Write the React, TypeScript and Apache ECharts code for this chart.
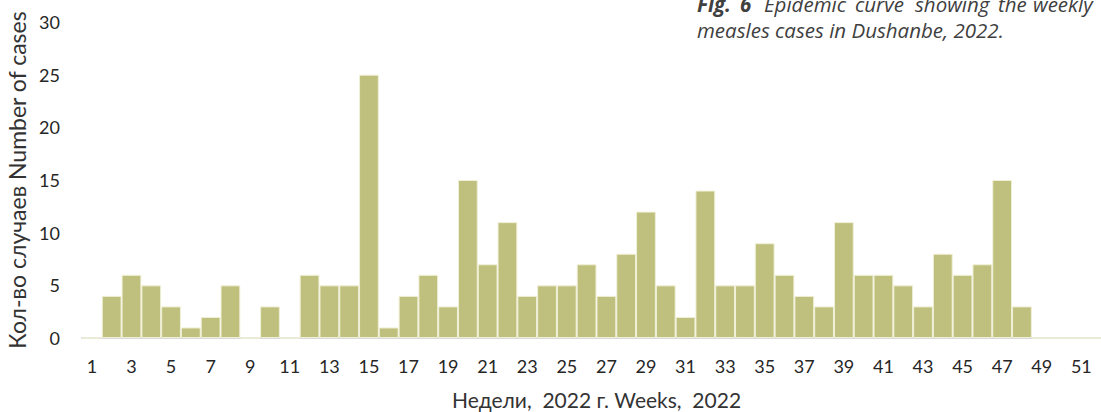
import React, { useEffect, useRef } from "react";
import * as echarts from "echarts";

const weeks: string[] = Array.from({ length: 52 }, (_, i) => String(i + 1));
const cases: number[] = [
  0, 4, 6, 5, 3, 1, 2, 5, 0, 3,
  0, 6, 5, 5, 25, 1, 4, 6, 3, 15,
  7, 11, 4, 5, 5, 7, 4, 8, 12, 5,
  2, 14, 5, 5, 9, 6, 4, 3, 11, 6,
  6, 5, 3, 8, 6, 7, 15, 3, 0, 0,
  0, 0,
];
const yTitle = "Кол-во случаев Number of cases";
const xTitle = "Недели,  2022 г. Weeks,  2022";
const captionWords: { t: string; x: number; bold?: boolean }[] = [
  { t: "Fig.", x: 697, bold: true },
  { t: "6", x: 740, bold: true },
  { t: "Epidemic", x: 764 },
  { t: "curve", x: 855 },
  { t: "showing", x: 915 },
  { t: "the", x: 998 },
  { t: "weekly", x: 1033 },
];
const captionLine2 = "measles cases in Dushanbe, 2022.";

export default function App() {
  const ref = useRef<HTMLDivElement>(null);
  useEffect(() => {
    if (!ref.current) return;
    const chart = echarts.init(ref.current, null, { renderer: "svg" });
    const font = "Lato, 'Open Sans', sans-serif";
    const capFont = "'Open Sans', sans-serif";
    const graphics: any[] = captionWords.map((w) => ({
      type: "text",
      x: w.x,
      y: 4,
      style: {
        text: w.t,
        fill: "#404040",
        font: `italic ${w.bold ? "bold " : ""}20.5px ${capFont}`,
        verticalAlign: "middle",
      },
    }));
    graphics.push({
      type: "text",
      x: 697,
      y: 30,
      style: {
        text: captionLine2,
        fill: "#404040",
        font: `italic 20.5px ${capFont}`,
        verticalAlign: "middle",
      },
    });
    chart.setOption({
      animation: false,
      grid: {
        left: 82,
        top: 22,
        width: 1029,
        height: 316,
        containLabel: false,
        outerBoundsMode: "none",
      },
      xAxis: {
        type: "category",
        data: weeks,
        name: xTitle,
        nameLocation: "middle",
        nameGap: 51,
        nameTextStyle: { fontFamily: font, fontSize: 21, color: "#333333" },
        axisLine: { lineStyle: { color: "#d9d9d9", width: 2 } },
        axisTick: { show: false },
        axisLabel: { interval: 1, margin: 19, fontFamily: font, fontSize: 18, color: "#262626" },
      },
      yAxis: {
        type: "value",
        min: 0,
        max: 30,
        interval: 5,
        name: yTitle,
        nameLocation: "middle",
        nameRotate: 90,
        nameGap: 53,
        nameTextStyle: { fontFamily: font, fontSize: 23, color: "#333333" },
        axisLine: { show: false },
        axisTick: { show: false },
        splitLine: { show: false },
        axisLabel: { margin: 22, fontFamily: font, fontSize: 18, color: "#262626" },
      },
      series: [
        {
          type: "bar",
          data: cases,
          barWidth: "100%",
          barCategoryGap: "0%",
          itemStyle: { color: "#c0c07e", borderColor: "#f0f0d8", borderWidth: 1 },
        },
      ],
      graphic: graphics,
    });
    return () => chart.dispose();
  }, []);
  return (
    <div style={{ position: "fixed", left: 0, top: 0, width: 1101, height: 412, overflow: "hidden", background: "#fff" }}>
      <div ref={ref} style={{ width: 1101, height: 412 }} />
    </div>
  );
}
